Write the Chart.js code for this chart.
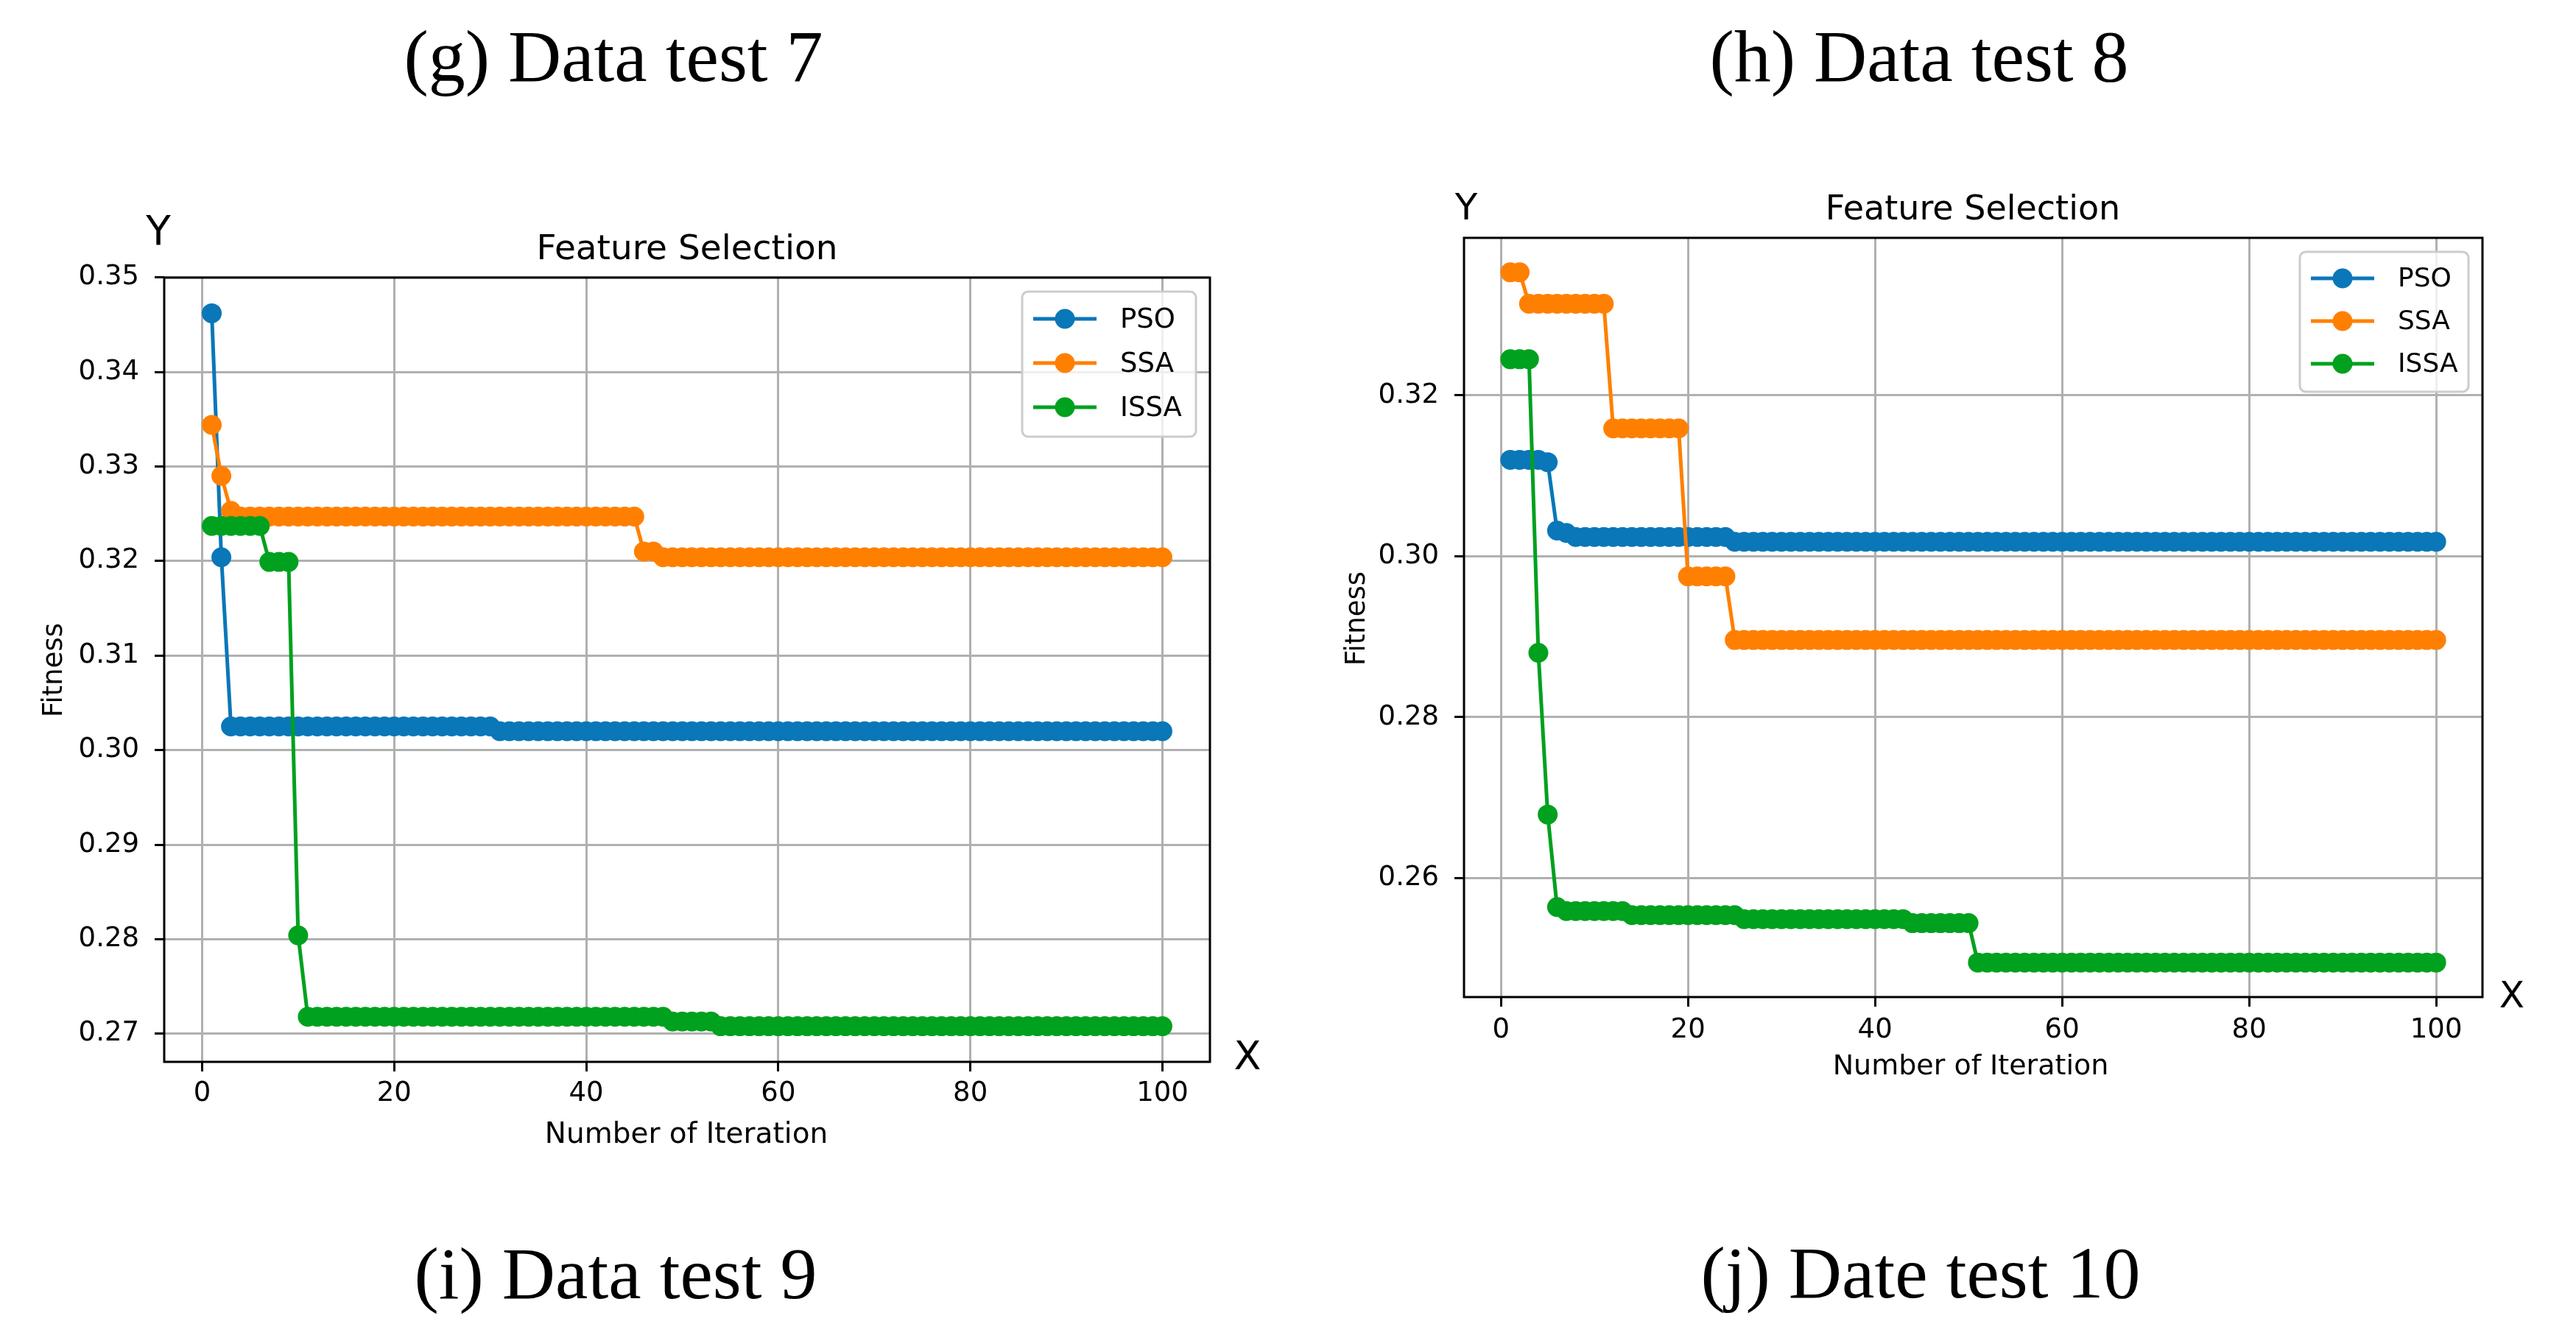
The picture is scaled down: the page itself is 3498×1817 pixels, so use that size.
<!DOCTYPE html>
<html>
<head>
<meta charset="utf-8">
<title>Feature Selection - PSO / SSA / ISSA</title>
<script src="https://cdn.jsdelivr.net/npm/chart.js@4.4.1/dist/chart.umd.min.js"></script>
<style>
  html, body { margin: 0; padding: 0; background: #fff; }
  body { width: 3498px; height: 1817px; position: relative; overflow: hidden; }
  .panel { position: absolute; }
  .panel canvas { display: block; }
  svg.labels { position: absolute; left: 0; top: 0; pointer-events: none; }
  .cap { font-family: 'Liberation Serif', 'Times New Roman', serif; font-size: 100px; fill: #000; }
  .sans { font-family: 'DejaVu Sans', sans-serif; fill: #000; }
</style>
</head>
<body>

<div class="panel" style="left:0px;top:300px;width:1700px;height:1250px">
  <canvas id="chartTest7" width="1700" height="1250" style="width:1700px;height:1250px"></canvas>
</div>
<div class="panel" style="left:1750px;top:250px;width:1748px;height:1250px">
  <canvas id="chartTest8" width="1748" height="1250" style="width:1748px;height:1250px"></canvas>
</div>

<svg class="labels" width="3498" height="1817">
  <text class="cap" x="833" y="110" text-anchor="middle">(g) Data test 7</text>
  <text class="cap" x="2606" y="110" text-anchor="middle">(h) Data test 8</text>
  <text class="cap" x="836" y="1763" text-anchor="middle">(i) Data test 9</text>
  <text class="cap" x="2608" y="1762" text-anchor="middle">(j) Date test 10</text>

  <!-- left panel -->
  <text class="sans" x="933" y="352" font-size="47" text-anchor="middle">Feature Selection</text>
  <text class="sans" x="215" y="332" font-size="55" text-anchor="middle">Y</text>
  <text class="sans" x="1694" y="1452" font-size="54" text-anchor="middle">X</text>
  <text class="sans" font-size="37" text-anchor="middle" transform="translate(84,910) rotate(-90)">Fitness</text>
  <text class="sans" x="932" y="1552" font-size="39" text-anchor="middle">Number of Iteration</text>

  <!-- right panel -->
  <text class="sans" x="2679" y="298" font-size="46" text-anchor="middle">Feature Selection</text>
  <text class="sans" x="1991" y="298" font-size="50" text-anchor="middle">Y</text>
  <text class="sans" x="3411" y="1368" font-size="50" text-anchor="middle">X</text>
  <text class="sans" font-size="37" text-anchor="middle" transform="translate(1853,840) rotate(-90)">Fitness</text>
  <text class="sans" x="2676" y="1459" font-size="38" text-anchor="middle">Number of Iteration</text>
</svg>

<script>
const iterations = Array.from({ length: 100 }, (_, i) => i + 1);
const xTicks = [0, 20, 40, 60, 80, 100];
const yTicksTest7 = [0.27, 0.28, 0.29, 0.30, 0.31, 0.32, 0.33, 0.34, 0.35];
const yTicksTest8 = [0.26, 0.28, 0.30, 0.32];
const seriesNames = ['PSO', 'SSA', 'ISSA'];
const seriesColors = ['#0a77b8', '#ff8000', '#00a11e'];

// left panel, fitness per iteration
const psoTest7 = [
  0.3462, 0.3204, 0.3025, 0.3025, 0.3025, 0.3025, 0.3025, 0.3025, 0.3025, 0.3025,
  0.3025, 0.3025, 0.3025, 0.3025, 0.3025, 0.3025, 0.3025, 0.3025, 0.3025, 0.3025,
  0.3025, 0.3025, 0.3025, 0.3025, 0.3025, 0.3025, 0.3025, 0.3025, 0.3025, 0.3025,
  0.3020, 0.3020, 0.3020, 0.3020, 0.3020, 0.3020, 0.3020, 0.3020, 0.3020, 0.3020,
  0.3020, 0.3020, 0.3020, 0.3020, 0.3020, 0.3020, 0.3020, 0.3020, 0.3020, 0.3020,
  0.3020, 0.3020, 0.3020, 0.3020, 0.3020, 0.3020, 0.3020, 0.3020, 0.3020, 0.3020,
  0.3020, 0.3020, 0.3020, 0.3020, 0.3020, 0.3020, 0.3020, 0.3020, 0.3020, 0.3020,
  0.3020, 0.3020, 0.3020, 0.3020, 0.3020, 0.3020, 0.3020, 0.3020, 0.3020, 0.3020,
  0.3020, 0.3020, 0.3020, 0.3020, 0.3020, 0.3020, 0.3020, 0.3020, 0.3020, 0.3020,
  0.3020, 0.3020, 0.3020, 0.3020, 0.3020, 0.3020, 0.3020, 0.3020, 0.3020, 0.3020
];
const ssaTest7 = [
  0.3344, 0.3290, 0.3253, 0.3247, 0.3247, 0.3247, 0.3247, 0.3247, 0.3247, 0.3247,
  0.3247, 0.3247, 0.3247, 0.3247, 0.3247, 0.3247, 0.3247, 0.3247, 0.3247, 0.3247,
  0.3247, 0.3247, 0.3247, 0.3247, 0.3247, 0.3247, 0.3247, 0.3247, 0.3247, 0.3247,
  0.3247, 0.3247, 0.3247, 0.3247, 0.3247, 0.3247, 0.3247, 0.3247, 0.3247, 0.3247,
  0.3247, 0.3247, 0.3247, 0.3247, 0.3247, 0.3210, 0.3210, 0.3204, 0.3204, 0.3204,
  0.3204, 0.3204, 0.3204, 0.3204, 0.3204, 0.3204, 0.3204, 0.3204, 0.3204, 0.3204,
  0.3204, 0.3204, 0.3204, 0.3204, 0.3204, 0.3204, 0.3204, 0.3204, 0.3204, 0.3204,
  0.3204, 0.3204, 0.3204, 0.3204, 0.3204, 0.3204, 0.3204, 0.3204, 0.3204, 0.3204,
  0.3204, 0.3204, 0.3204, 0.3204, 0.3204, 0.3204, 0.3204, 0.3204, 0.3204, 0.3204,
  0.3204, 0.3204, 0.3204, 0.3204, 0.3204, 0.3204, 0.3204, 0.3204, 0.3204, 0.3204
];
const issaTest7 = [
  0.3237, 0.3237, 0.3237, 0.3237, 0.3237, 0.3237, 0.3199, 0.3199, 0.3199, 0.2804,
  0.2718, 0.2718, 0.2718, 0.2718, 0.2718, 0.2718, 0.2718, 0.2718, 0.2718, 0.2718,
  0.2718, 0.2718, 0.2718, 0.2718, 0.2718, 0.2718, 0.2718, 0.2718, 0.2718, 0.2718,
  0.2718, 0.2718, 0.2718, 0.2718, 0.2718, 0.2718, 0.2718, 0.2718, 0.2718, 0.2718,
  0.2718, 0.2718, 0.2718, 0.2718, 0.2718, 0.2718, 0.2718, 0.2718, 0.2713, 0.2713,
  0.2713, 0.2713, 0.2713, 0.2708, 0.2708, 0.2708, 0.2708, 0.2708, 0.2708, 0.2708,
  0.2708, 0.2708, 0.2708, 0.2708, 0.2708, 0.2708, 0.2708, 0.2708, 0.2708, 0.2708,
  0.2708, 0.2708, 0.2708, 0.2708, 0.2708, 0.2708, 0.2708, 0.2708, 0.2708, 0.2708,
  0.2708, 0.2708, 0.2708, 0.2708, 0.2708, 0.2708, 0.2708, 0.2708, 0.2708, 0.2708,
  0.2708, 0.2708, 0.2708, 0.2708, 0.2708, 0.2708, 0.2708, 0.2708, 0.2708, 0.2708
];

// right panel
const psoTest8 = [
  0.3120, 0.3120, 0.3120, 0.3120, 0.3117, 0.3032, 0.3029, 0.3024, 0.3024, 0.3024,
  0.3024, 0.3024, 0.3024, 0.3024, 0.3024, 0.3024, 0.3024, 0.3024, 0.3024, 0.3024,
  0.3024, 0.3024, 0.3024, 0.3024, 0.3018, 0.3018, 0.3018, 0.3018, 0.3018, 0.3018,
  0.3018, 0.3018, 0.3018, 0.3018, 0.3018, 0.3018, 0.3018, 0.3018, 0.3018, 0.3018,
  0.3018, 0.3018, 0.3018, 0.3018, 0.3018, 0.3018, 0.3018, 0.3018, 0.3018, 0.3018,
  0.3018, 0.3018, 0.3018, 0.3018, 0.3018, 0.3018, 0.3018, 0.3018, 0.3018, 0.3018,
  0.3018, 0.3018, 0.3018, 0.3018, 0.3018, 0.3018, 0.3018, 0.3018, 0.3018, 0.3018,
  0.3018, 0.3018, 0.3018, 0.3018, 0.3018, 0.3018, 0.3018, 0.3018, 0.3018, 0.3018,
  0.3018, 0.3018, 0.3018, 0.3018, 0.3018, 0.3018, 0.3018, 0.3018, 0.3018, 0.3018,
  0.3018, 0.3018, 0.3018, 0.3018, 0.3018, 0.3018, 0.3018, 0.3018, 0.3018, 0.3018
];
const ssaTest8 = [
  0.3353, 0.3353, 0.3314, 0.3314, 0.3314, 0.3314, 0.3314, 0.3314, 0.3314, 0.3314,
  0.3314, 0.3159, 0.3159, 0.3159, 0.3159, 0.3159, 0.3159, 0.3159, 0.3159, 0.2975,
  0.2975, 0.2975, 0.2975, 0.2975, 0.2896, 0.2896, 0.2896, 0.2896, 0.2896, 0.2896,
  0.2896, 0.2896, 0.2896, 0.2896, 0.2896, 0.2896, 0.2896, 0.2896, 0.2896, 0.2896,
  0.2896, 0.2896, 0.2896, 0.2896, 0.2896, 0.2896, 0.2896, 0.2896, 0.2896, 0.2896,
  0.2896, 0.2896, 0.2896, 0.2896, 0.2896, 0.2896, 0.2896, 0.2896, 0.2896, 0.2896,
  0.2896, 0.2896, 0.2896, 0.2896, 0.2896, 0.2896, 0.2896, 0.2896, 0.2896, 0.2896,
  0.2896, 0.2896, 0.2896, 0.2896, 0.2896, 0.2896, 0.2896, 0.2896, 0.2896, 0.2896,
  0.2896, 0.2896, 0.2896, 0.2896, 0.2896, 0.2896, 0.2896, 0.2896, 0.2896, 0.2896,
  0.2896, 0.2896, 0.2896, 0.2896, 0.2896, 0.2896, 0.2896, 0.2896, 0.2896, 0.2896
];
const issaTest8 = [
  0.3245, 0.3245, 0.3245, 0.2880, 0.2679, 0.2564, 0.2559, 0.2559, 0.2559, 0.2559,
  0.2559, 0.2559, 0.2559, 0.2554, 0.2554, 0.2554, 0.2554, 0.2554, 0.2554, 0.2554,
  0.2554, 0.2554, 0.2554, 0.2554, 0.2554, 0.2549, 0.2549, 0.2549, 0.2549, 0.2549,
  0.2549, 0.2549, 0.2549, 0.2549, 0.2549, 0.2549, 0.2549, 0.2549, 0.2549, 0.2549,
  0.2549, 0.2549, 0.2549, 0.2544, 0.2544, 0.2544, 0.2544, 0.2544, 0.2544, 0.2544,
  0.2495, 0.2495, 0.2495, 0.2495, 0.2495, 0.2495, 0.2495, 0.2495, 0.2495, 0.2495,
  0.2495, 0.2495, 0.2495, 0.2495, 0.2495, 0.2495, 0.2495, 0.2495, 0.2495, 0.2495,
  0.2495, 0.2495, 0.2495, 0.2495, 0.2495, 0.2495, 0.2495, 0.2495, 0.2495, 0.2495,
  0.2495, 0.2495, 0.2495, 0.2495, 0.2495, 0.2495, 0.2495, 0.2495, 0.2495, 0.2495,
  0.2495, 0.2495, 0.2495, 0.2495, 0.2495, 0.2495, 0.2495, 0.2495, 0.2495, 0.2495
];

Chart.defaults.font.family = "'DejaVu Sans', sans-serif";
Chart.defaults.font.size = 37;
Chart.defaults.color = '#000';

// matplotlib style autoscale: 5% margin on each side
function margins(values) {
    const lo = Math.min(...values);
    const hi = Math.max(...values);
    const pad = (hi - lo) * 0.05;
    return [lo - pad, hi + pad];
}

// axes box on all four sides + legend in the upper right corner
const frameAndLegend = {
    id: 'frameAndLegend',
    afterDatasetsDraw(chart, args, opts) {
        const { ctx, chartArea: a } = chart;
        ctx.save();
        ctx.strokeStyle = '#000';
        ctx.lineWidth = 3;
        ctx.strokeRect(a.left, a.top, a.right - a.left, a.bottom - a.top);

        const x0 = a.right - opts.gap - opts.width;
        const y0 = a.top + opts.gap;
        ctx.beginPath();
        ctx.roundRect(x0, y0, opts.width, opts.height, 8);
        ctx.fillStyle = 'rgba(255,255,255,0.8)';
        ctx.fill();
        ctx.strokeStyle = '#cccccc';
        ctx.lineWidth = 3;
        ctx.stroke();

        ctx.font = opts.fontSize + "px 'DejaVu Sans', sans-serif";
        ctx.textBaseline = 'middle';
        chart.data.datasets.forEach((ds, i) => {
            const y = y0 + opts.firstRow + i * opts.rowGap;
            ctx.strokeStyle = ds.borderColor;
            ctx.lineWidth = 5;
            ctx.beginPath();
            ctx.moveTo(x0 + 15, y);
            ctx.lineTo(x0 + 101, y);
            ctx.stroke();
            ctx.fillStyle = ds.borderColor;
            ctx.beginPath();
            ctx.arc(x0 + 58, y, 13.5, 0, Math.PI * 2);
            ctx.fill();
            ctx.fillStyle = '#000';
            ctx.fillText(ds.label, x0 + 133, y + 2);
        });
        ctx.restore();
    }
};

const gridStyle = {
    color: '#b0b0b0',
    lineWidth: 3,
    tickColor: '#000',
    tickLength: 13,
    tickWidth: 3
};

function makeChart(canvasId, seriesList, yTicks, box) {
    const [xMin, xMax] = margins(iterations);
    const [yMin, yMax] = margins(seriesList.flat());

    const datasets = seriesList.map((values, i) => ({
        label: seriesNames[i],
        data: values.map((v, j) => ({ x: iterations[j], y: v })),
        borderColor: seriesColors[i],
        backgroundColor: seriesColors[i],
        pointBackgroundColor: seriesColors[i],
        pointBorderColor: seriesColors[i],
        borderWidth: 5,
        pointRadius: 12,
        pointBorderWidth: 3,
        tension: 0,
        order: seriesList.length - i   // last series on top, like matplotlib
    }));

    const ctx = document.getElementById(canvasId).getContext('2d');
    return new Chart(ctx, {
        type: 'line',
        data: { datasets },
        options: {
            responsive: false,
            animation: false,
            devicePixelRatio: 1,
            layout: { padding: { left: 0, top: box.top, right: box.right, bottom: 0 } },
            plugins: {
                legend: { display: false },
                tooltip: { enabled: false },
                frameAndLegend: box.legend
            },
            scales: {
                x: {
                    type: 'linear',
                    min: xMin,
                    max: xMax,
                    afterBuildTicks: s => { s.ticks = xTicks.map(v => ({ value: v })); },
                    afterFit: s => { s.height = box.xHeight; },
                    ticks: { autoSkip: false, maxRotation: 0, padding: box.xPad, callback: v => String(v) },
                    grid: gridStyle,
                    border: { display: false }
                },
                y: {
                    min: yMin,
                    max: yMax,
                    afterBuildTicks: s => { s.ticks = yTicks.map(v => ({ value: v })); },
                    afterFit: s => { s.width = box.yWidth; },
                    ticks: { autoSkip: false, padding: 21, callback: v => v.toFixed(2) },
                    grid: gridStyle,
                    border: { display: false }
                }
            }
        },
        plugins: [frameAndLegend]
    });
}

makeChart('chartTest7', [psoTest7, ssaTest7, issaTest7], yTicksTest7, {
    top: 77, right: 57, yWidth: 223, xHeight: 108, xPad: 8,
    legend: { gap: 19, width: 236, height: 197, firstRow: 37, rowGap: 60, fontSize: 37 }
});

makeChart('chartTest8', [psoTest8, ssaTest8, issaTest8], yTicksTest8, {
    top: 73, right: 127, yWidth: 238, xHeight: 146, xPad: 10,
    legend: { gap: 19, width: 229, height: 190, firstRow: 36, rowGap: 58, fontSize: 36 }
});
</script>
</body>
</html>
